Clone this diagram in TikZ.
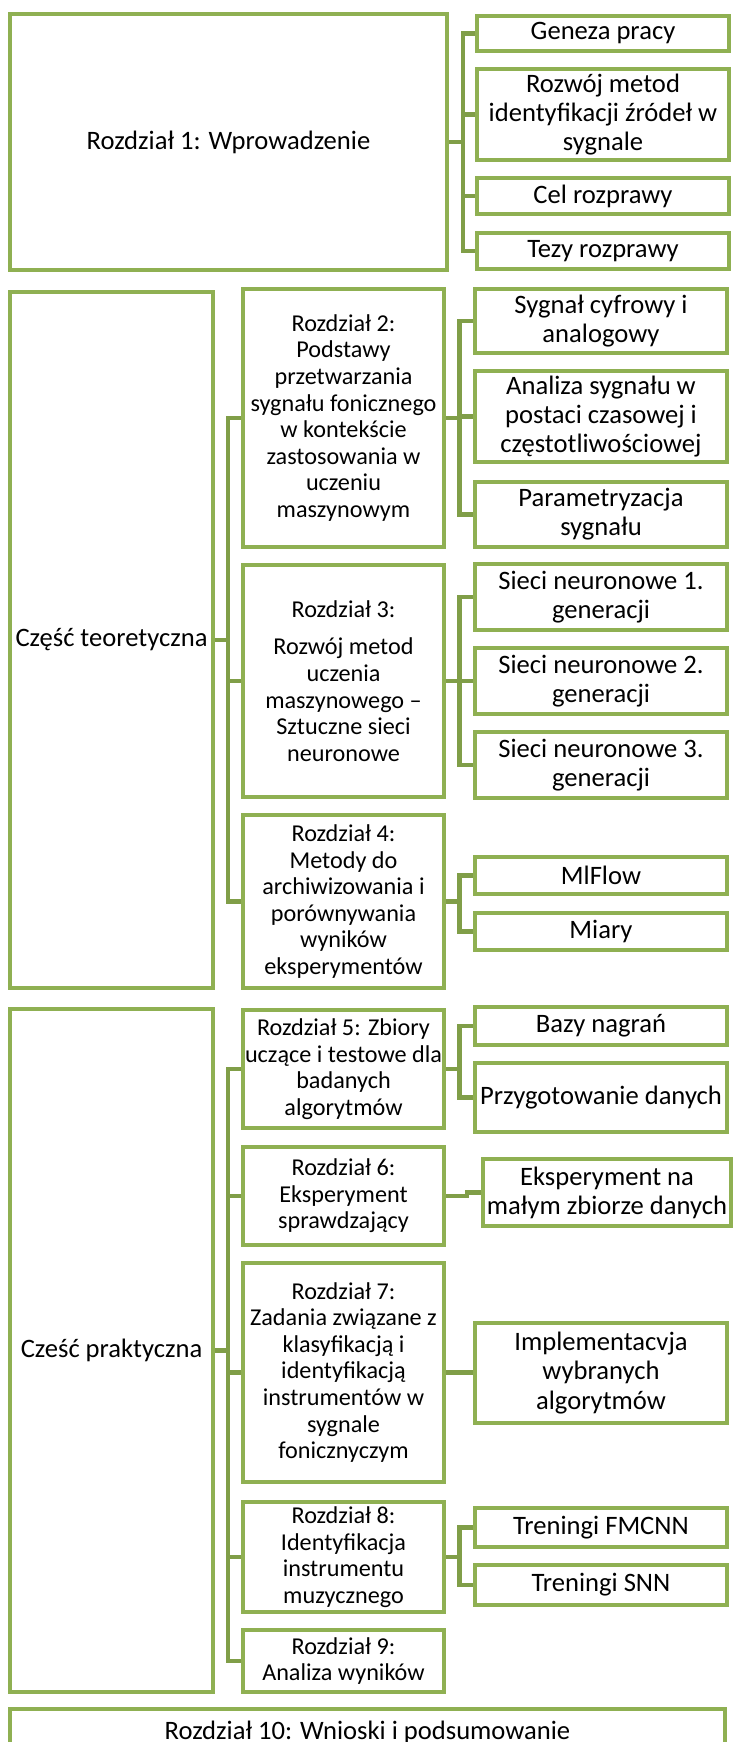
\documentclass[tikz,border=0pt]{standalone}
\usepackage{fontspec}
\setmainfont{Carlito}
\definecolor{boxgreen}{RGB}{143,176,82}
\definecolor{linegreen}{RGB}{128,158,72}
\tikzset{
  box node/.style={draw=boxgreen, line width=2.25pt, fill=white, align=center, inner sep=1pt, font=\fontsize{13.3}{14.6}\selectfont},
  part node/.style={box node, minimum width=101.5pt},
  chap node/.style={box node, minimum width=100.5pt, font=\fontsize{12.1}{13.3}\selectfont},
  sub node/.style={box node, minimum width=126pt},
  link/.style={draw=linegreen, line width=2.25pt},
}
\begin{document}
\begin{tikzpicture}[x=0.5pt, y=-0.5pt]
\useasboundingbox (0,0) rectangle (733,1742);
% Rozdzial 1
\node [box node, minimum width=218.5pt, minimum height=128pt] (r1) at (228.5,142) {Rozdział 1: Wprowadzenie};
\node [sub node, minimum height=17.5pt] (g1) at (603,33.5) {Geneza pracy};
\node [sub node, minimum height=45.5pt] (g2) at (603,114.5) {Rozwój metod\\identyfikacji źródeł w\\sygnale};
\node [sub node, minimum height=18pt] (g3) at (603,196) {Cel rozprawy};
\node [sub node, minimum height=18pt] (g4) at (603,251) {Tezy rozprawy};
% czesc teoretyczna
\node [part node, minimum height=348pt] (teor) at (111.5,640) {Część teoretyczna};
\node [chap node, minimum height=129pt] (r2) at (343.5,418) {Rozdział 2:\\Podstawy\\przetwarzania\\sygnału fonicznego\\w kontekście\\zastosowania w\\uczeniu\\maszynowym};
\node [sub node, minimum height=32pt] (s1) at (601,321) {Sygnał cyfrowy i\\analogowy};
\node [sub node, minimum height=45.5pt] (s2) at (601,416.5) {Analiza sygnału w\\postaci czasowej i\\częstotliwościowej};
\node [sub node, minimum height=32.5pt] (s3) at (601,514.5) {Parametryzacja\\sygnału};
\node [chap node, minimum height=116pt] (r3) at (343.5,681) {Rozdział 3:\\[5.5pt]Rozwój metod\\uczenia\\maszynowego –\\Sztuczne sieci\\neuronowe};
\node [sub node, minimum height=33pt] (n1) at (601,597) {Sieci neuronowe 1.\\generacji};
\node [sub node, minimum height=33pt] (n2) at (601,681) {Sieci neuronowe 2.\\generacji};
\node [sub node, minimum height=33pt] (n3) at (601,765) {Sieci neuronowe 3.\\generacji};
\node [chap node, minimum height=86.5pt] (r4) at (343.5,901.5) {Rozdział 4:\\Metody do\\archiwizowania i\\porównywania\\wyników\\eksperymentów};
\node [sub node, minimum height=18.5pt] (m1) at (601,875.5) {MlFlow};
\node [sub node, minimum height=18.5pt] (m2) at (601,931.5) {Miary};
% czesc praktyczna
\node [part node, minimum height=341.5pt] (prakt) at (111.5,1350.5) {Cześć praktyczna};
\node [chap node, minimum height=59pt] (r5) at (343.5,1069) {Rozdział 5: Zbiory\\uczące i testowe dla\\badanych\\algorytmów};
\node [sub node, minimum height=19pt] (b1) at (601,1026) {Bazy nagrań};
\node [sub node, minimum height=34.5pt] (b2) at (601,1097.5) {Przygotowanie danych};
\node [chap node, minimum height=49pt] (r6) at (343.5,1196) {Rozdział 6:\\Eksperyment\\sprawdzający};
\node [box node, minimum width=124pt, minimum height=33.5pt] (e1) at (607,1192.5) {Eksperyment na\\małym zbiorze danych};
\node [chap node, minimum height=109.5pt] (r7) at (343.5,1372.5) {Rozdział 7:\\Zadania związane z\\klasyfikacją i\\identyfikacją\\instrumentów w\\sygnale\\fonicznyczym};
\node [sub node, minimum height=50pt] (i1) at (601,1373) {Implementacvja\\wybranych\\algorytmów};
\node [chap node, minimum height=55pt] (r8) at (343.5,1557) {Rozdział 8:\\Identyfikacja\\instrumentu\\muzycznego};
\node [sub node, minimum height=19.5pt] (t1) at (601,1527.5) {Treningi FMCNN};
\node [sub node, minimum height=20pt] (t2) at (601,1585) {Treningi SNN};
\node [chap node, minimum height=31pt] (r9) at (343.5,1661) {Rozdział 9:\\Analiza wyników};
% Rozdzial 10
\node [box node, minimum width=357.5pt, minimum height=23pt] (r10) at (367.5,1732) {Rozdział 10: Wnioski i podsumowanie};
% connectors
\coordinate (k1) at (463,0);
\coordinate (kl) at (228,0);
\coordinate (kc) at (459.5,0);
\coordinate (k6) at (467,0);
\foreach \n in {g1,g2,g3,g4}
  \draw [link] (r1.east) -- (r1.east -| k1) |- (\n.west);
\foreach \n in {r2,r3,r4}
  \draw [link] (teor.east) -- (teor.east -| kl) |- (\n.west);
\foreach \n in {r5,r6,r7,r8,r9}
  \draw [link] (prakt.east) -- (prakt.east -| kl) |- (\n.west);
\foreach \a/\b in {r2/s1,r2/s2,r2/s3,r3/n1,r3/n2,r3/n3,r4/m1,r4/m2,r5/b1,r5/b2,r8/t1,r8/t2}
  \draw [link] (\a.east) -- (\a.east -| kc) |- (\b.west);
\draw [link] (r6.east) -- (r6.east -| k6) |- (e1.west);
\draw [link] (r7.east) -- (r7.east -| i1.west);
\end{tikzpicture}
\end{document}
